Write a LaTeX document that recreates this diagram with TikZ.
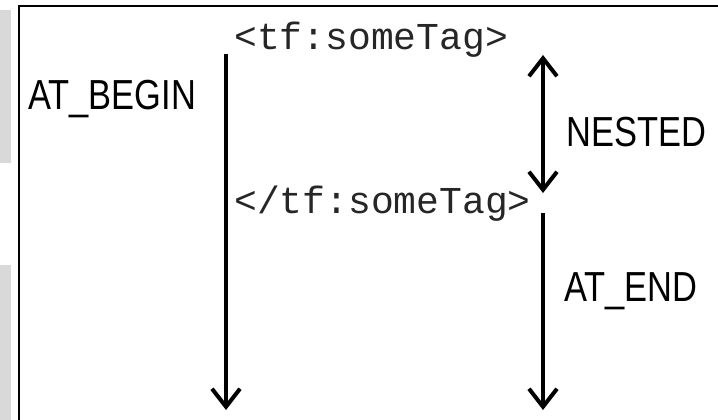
\documentclass[tikz,border=0pt]{standalone}
\usepackage{fontspec}
\setmainfont{Liberation Sans}
\newfontfamily\labelfont[FakeStretch=0.82]{Liberation Sans}
\newfontfamily\tagfont{Liberation Mono}
\usetikzlibrary{arrows.meta}
\tikzset{
  lbl/.style={font=\labelfont\fontsize{42}{42}\selectfont, inner sep=0pt, anchor=west, text=black},
  tag/.style={font=\tagfont\fontsize{38}{38}\selectfont, inner sep=0pt, anchor=west, text=black!85},
  flow/.style={line width=4pt, -{Straight Barb[length=18pt,width=28pt]}},
  flowboth/.style={line width=4pt, {Straight Barb[length=18pt,width=28pt]}-{Straight Barb[length=18pt,width=28pt]}},
  frame/.style={line width=2pt, draw=black},
  side/.style={fill=black!15, draw=none}
}
\begin{document}
\begin{tikzpicture}[x=1pt,y=-1pt]
\useasboundingbox (0,0) rectangle (718,420);
\clip (0,0) rectangle (718,420);
\fill[white] (0,0) rectangle (718,420);
\fill[side] (0,10) rectangle (11,163);
\fill[side] (0,265) rectangle (11,420);
\draw[frame] (19,440) -- (19,6) -- (740,6);

\node[tag] (tagopen) at (234,40) {<tf:someTag>};
\node[tag] (tagclose) at (234,204) {</tf:someTag>};
\node[lbl] (atbegin) at (28,99) {AT\_BEGIN};
\node[lbl] (nested) at (566,132) {NESTED};
\node[lbl] (atend) at (564,291) {AT\_END};

\coordinate (lbtop) at (226,54);
\coordinate (lbbot) at (226,410);
\coordinate (ntop) at (543,55);
\coordinate (nbot) at (543,193);
\coordinate (etop) at (543,213);
\coordinate (ebot) at (543,410);

\draw[flow] (lbtop) -- (lbbot);
\draw[flowboth] (ntop) -- (nbot);
\draw[flow] (etop) -- (ebot);
\end{tikzpicture}
\end{document}
